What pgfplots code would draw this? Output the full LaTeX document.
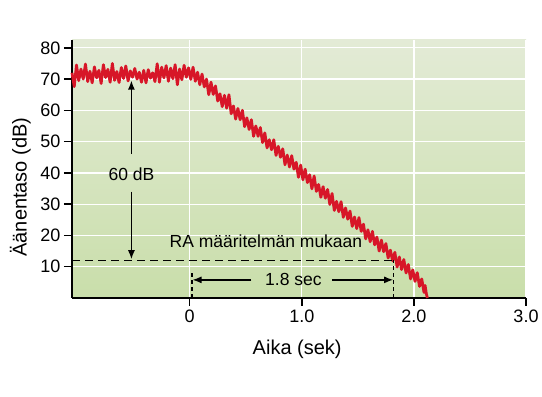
\documentclass[border=0pt]{standalone}
\usepackage{pgfplots}
\pgfplotsset{compat=1.18}
\usepackage{fontspec}
\setmainfont{Liberation Sans}
\usetikzlibrary{arrows.meta}
\definecolor{bgtop}{RGB}{227,235,214}
\definecolor{bgbot}{RGB}{201,222,170}
\definecolor{curvered}{RGB}{215,22,40}
\begin{document}
\begin{tikzpicture}
\useasboundingbox (0,0) rectangle (542bp,397bp);
\begin{axis}[
  at={(72bp,99bp)}, anchor=south west,
  scale only axis, width=454bp, height=258bp,
  xmin=-1.05, xmax=3.0, ymin=0, ymax=82.5,
  axis lines=left,
  axis line style={-, line width=2.5bp, black},
  axis background/.style={top color=bgtop, bottom color=bgbot},
  xtick={0,1,2,3}, xticklabels={0,1.0,2.0,3.0},
  ytick={10,20,30,40,50,60,70,80},
  tick align=outside, major tick length=8bp,
  tick style={line width=1.5bp, black},
  grid=major, major grid style={white, line width=1.3bp},
  /pgf/number format/assume math mode=true,
  ticklabel style={font=\fontsize{18bp}{21bp}\selectfont},
  xlabel={Aika (sek)}, ylabel={Äänentaso (dB)},
  label style={font=\fontsize{20bp}{24bp}\selectfont},
  xlabel style={at={(axis description cs:0.496,-0.2)}, anchor=center},
  ylabel style={at={(axis description cs:-0.114,0.43)}, anchor=center},
  clip=false,
]
\addplot[curvered, line width=2.8bp, line join=round, no markers] coordinates {
(-1.05,72.0) (-1.03,67.6) (-1.01,74.5) (-0.99,69.5) (-0.97,73.2) (-0.95,70.0)
(-0.93,74.8) (-0.91,69.2) (-0.89,72.5) (-0.87,68.8) (-0.85,73.9) (-0.83,70.4)
(-0.81,72.8) (-0.79,68.6) (-0.77,74.6) (-0.75,70.5) (-0.73,73.1) (-0.71,69.0)
(-0.69,75.0) (-0.67,69.6) (-0.65,72.4) (-0.63,68.9) (-0.61,73.7) (-0.59,70.2)
(-0.57,74.2) (-0.55,69.4) (-0.53,72.6) (-0.51,70.6) (-0.49,73.4) (-0.47,70.0)
(-0.45,72.2) (-0.43,69.0) (-0.41,72.8) (-0.39,68.8) (-0.37,73.0) (-0.35,70.3)
(-0.33,72.0) (-0.31,69.2) (-0.29,74.9) (-0.27,69.0) (-0.25,73.8) (-0.23,70.4)
(-0.21,74.3) (-0.19,69.3) (-0.17,73.5) (-0.15,70.1) (-0.13,74.6) (-0.11,68.2)
(-0.09,73.2) (-0.07,69.8) (-0.05,74.4) (-0.03,70.6) (-0.01,73.6) (0.01,69.9)
(0.03,73.8)
(0.05,69.3) (0.07,72.2) (0.09,68.2) (0.11,71.6) (0.13,67.5) (0.15,70.0)
(0.17,65.0) (0.19,69.0) (0.21,65.1) (0.23,67.8) (0.25,63.0) (0.27,65.3)
(0.29,61.2) (0.31,64.8) (0.33,60.7) (0.35,65.0) (0.37,58.9) (0.39,61.4)
(0.41,57.2) (0.43,60.6) (0.45,57.0) (0.47,60.0) (0.49,54.8) (0.51,57.6)
(0.53,53.9) (0.55,57.0) (0.57,51.7) (0.59,55.0) (0.61,51.7) (0.63,54.5)
(0.65,49.7) (0.67,52.8) (0.69,48.0) (0.71,50.6) (0.73,47.4) (0.75,50.6)
(0.77,45.6) (0.79,48.5) (0.81,45.0) (0.83,47.7) (0.85,42.6) (0.87,45.7)
(0.89,41.9) (0.91,45.5) (0.93,41.2) (0.95,43.4) (0.97,38.6) (0.99,42.5)
(1.01,37.8) (1.03,41.2) (1.05,36.9) (1.07,39.4) (1.09,34.9) (1.11,39.0)
(1.13,34.1) (1.15,36.3) (1.17,32.2) (1.19,35.6) (1.21,31.9) (1.23,34.7)
(1.25,29.9) (1.27,33.4) (1.29,28.0) (1.31,30.9) (1.33,27.6) (1.35,30.8)
(1.37,25.8) (1.39,28.8) (1.41,25.2) (1.43,27.8) (1.45,22.9) (1.47,25.9)
(1.49,22.2) (1.51,25.7) (1.53,21.3) (1.55,23.6) (1.57,18.9) (1.59,21.8)
(1.61,18.0) (1.63,21.3) (1.65,17.0) (1.67,19.5) (1.69,15.0) (1.71,18.5)
(1.73,14.8) (1.75,17.4) (1.77,12.8) (1.79,15.3) (1.81,11.9) (1.83,14.6)
(1.85,9.9) (1.87,13.1) (1.89,9.1) (1.91,12.3) (1.93,8.0) (1.95,10.7)
(1.97,6.1) (1.99,9.0) (2.01,5.3) (2.03,8.1) (2.05,3.7) (2.07,6.1)
(2.09,1.8) (2.10,4.0) (2.11,1.5) (2.12,0.0)
};
% annotations
\draw[black, line width=1.3bp, dash pattern=on 8bp off 5bp] (axis cs:-1.05,12) -- (axis cs:1.82,12);
\draw[black, line width=1.3bp, dash pattern=on 4bp off 3bp] (axis cs:0.02,0) -- (axis cs:0.02,8);
\draw[black, line width=1.3bp, dash pattern=on 4bp off 3bp] (axis cs:1.82,0) -- (axis cs:1.82,12);
\draw[black, line width=1.3bp, -{Latex[length=9bp,width=7bp]}] (axis cs:-0.52,46) -- (axis cs:-0.52,69.5);
\draw[black, line width=1.3bp, -{Latex[length=9bp,width=7bp]}] (axis cs:-0.52,34) -- (axis cs:-0.52,12.4);
\draw[black, line width=1.3bp, -{Latex[length=9bp,width=7bp]}] (axis cs:0.55,5.8) -- (axis cs:0.025,5.8);
\draw[black, line width=1.3bp, -{Latex[length=9bp,width=7bp]}] (axis cs:1.27,5.8) -- (axis cs:1.815,5.8);
\node[font=\fontsize{17.5bp}{21bp}\selectfont] at (axis cs:-0.52,39.5) {60 dB};
\node[font=\fontsize{17.5bp}{21bp}\selectfont] at (axis cs:0.68,18.2) {RA määritelmän mukaan};
\node[font=\fontsize{17.5bp}{21bp}\selectfont] at (axis cs:0.925,6.0) {1.8 sec};
\end{axis}
\end{tikzpicture}
\end{document}
